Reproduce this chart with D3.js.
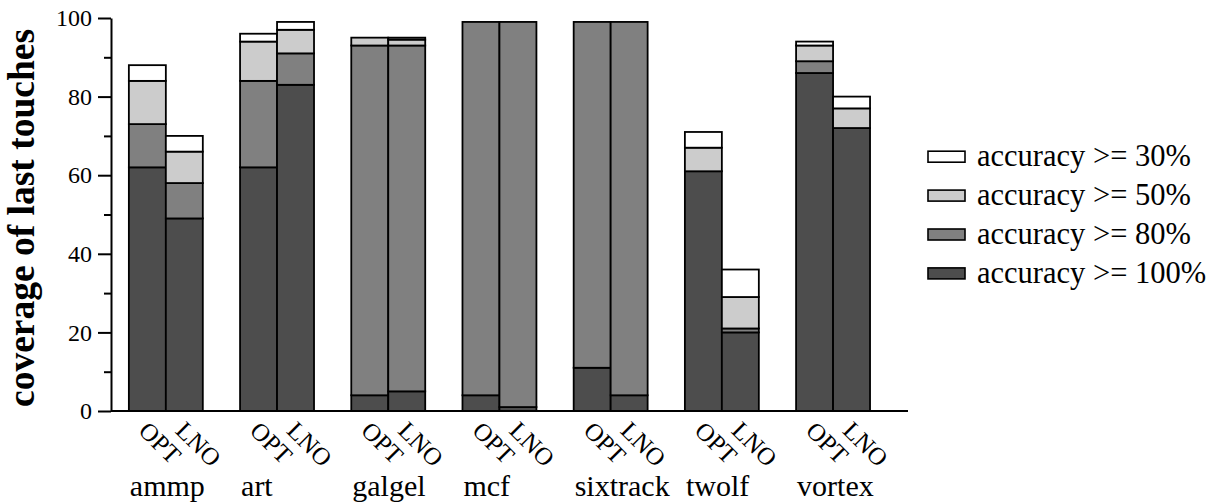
<!DOCTYPE html>
<html>
<head>
<meta charset="utf-8">
<script src="https://cdn.jsdelivr.net/npm/d3@7"></script>
<style>
  html, body { margin: 0; padding: 0; background: #fff; }
  svg { display: block; }
  text { font-family: "Liberation Serif", "Times New Roman", serif; fill: #000; }
</style>
</head>
<body>
<script>
// ---- data ----
const categories = ["ammp", "art", "galgel", "mcf", "sixtrack", "twolf", "vortex"];
const configs = ["OPT", "LNO"];
const seriesNames = ["accuracy >= 100%", "accuracy >= 80%", "accuracy >= 50%", "accuracy >= 30%"];
const seriesColors = ["#4d4d4d", "#808080", "#cccccc", "#ffffff"];
// cumulative coverage (%) reaching each accuracy threshold
const opt100 = [62, 62, 4, 4, 11, 61, 86];
const opt80  = [73, 84, 93, 99, 99, 61, 89];
const opt50  = [84, 94, 95, 99, 99, 67, 93];
const opt30  = [88, 96, 95, 99, 99, 71, 94];
const lno100 = [49, 83, 5, 1, 4, 20, 72];
const lno80  = [58, 91, 93, 99, 99, 21, 72];
const lno50  = [66, 97, 94.5, 99, 99, 29, 77];
const lno30  = [70, 99, 95, 99, 99, 36, 80];
const yMajorTicks = [0, 20, 40, 60, 80, 100];
const yMinorTicks = [10, 30, 50, 70, 90];

// ---- layout ----
const W = 1217, H = 504;
const svg = d3.select("body").append("svg").attr("width", W).attr("height", H);

const y = d3.scaleLinear().domain([0, 100]).range([411, 18]);
const x = d3.scaleBand().domain(categories).range([111, 908])
  .paddingInner(0.335).paddingOuter(0.251).align(0.32);
const xs = d3.scaleBand().domain(configs).range([0, x.bandwidth()]);

const cumul = {
  OPT: [opt100, opt80, opt50, opt30],
  LNO: [lno100, lno80, lno50, lno30]
};

// bars
const segs = [];
categories.forEach((c, i) => {
  configs.forEach(cf => {
    let prev = 0;
    cumul[cf].forEach((arr, s) => {
      const v = arr[i];
      segs.push({ c, cf, s, y0: prev, y1: v });
      prev = v;
    });
  });
});

svg.append("g").selectAll("rect").data(segs.filter(d => d.y1 > d.y0)).join("rect")
  .attr("x", d => x(d.c) + xs(d.cf))
  .attr("width", xs.bandwidth())
  .attr("y", d => y(d.y1))
  .attr("height", d => y(d.y0) - y(d.y1))
  .attr("fill", d => seriesColors[d.s])
  .attr("stroke", "#000")
  .attr("stroke-width", 1.8);

// y axis
const yAxis = svg.append("g").attr("transform", "translate(111,0)")
  .call(d3.axisLeft(y).tickValues(yMajorTicks).tickSize(13).tickSizeOuter(0).tickPadding(6));
yAxis.select(".domain").attr("stroke-width", 2);
yAxis.selectAll(".tick line").attr("stroke-width", 2);
yAxis.selectAll(".tick text").attr("font-size", 24).attr("font-family", "Liberation Serif");

const yMinor = svg.append("g").attr("transform", "translate(111,0)")
  .call(d3.axisLeft(y).tickValues(yMinorTicks).tickSize(7).tickFormat(""));
yMinor.select(".domain").remove();
yMinor.selectAll(".tick line").attr("stroke-width", 2);

// x axis line
svg.append("line")
  .attr("x1", x.range()[0]).attr("x2", x.range()[1])
  .attr("y1", y(0)).attr("y2", y(0))
  .attr("stroke", "#000").attr("stroke-width", 2);

// config labels (rotated)
categories.forEach(c => {
  configs.forEach(cf => {
    const cx = x(c) + xs(cf) + xs.bandwidth() / 2;
    svg.append("text")
      .attr("transform", `translate(${cx - 10},432) rotate(45)`)
      .attr("font-size", 25)
      .attr("text-anchor", "start")
      .text(cf);
  });
});

// category labels
svg.append("g").selectAll("text").data(categories).join("text")
  .attr("x", d => x(d) + 1)
  .attr("y", 496)
  .attr("font-size", 30)
  .text(d => d);

// y title
svg.append("text")
  .attr("transform", "translate(34,218) rotate(-90)")
  .attr("text-anchor", "middle")
  .attr("font-size", 37.5)
  .attr("font-weight", "bold")
  .text("coverage of last touches");

// legend
const legendOrder = [3, 2, 1, 0];
const lg = svg.append("g");
legendOrder.forEach((s, k) => {
  const cy = 156.7 + k * 38.9;
  lg.append("rect")
    .attr("x", 928).attr("y", cy - 5.5)
    .attr("width", 37).attr("height", 11)
    .attr("fill", seriesColors[s]).attr("stroke", "#000").attr("stroke-width", 1.6);
  lg.append("text")
    .attr("x", 977).attr("y", cy + 9.3)
    .attr("font-size", 30.5)
    .text(seriesNames[s]);
});
</script>
</body>
</html>
